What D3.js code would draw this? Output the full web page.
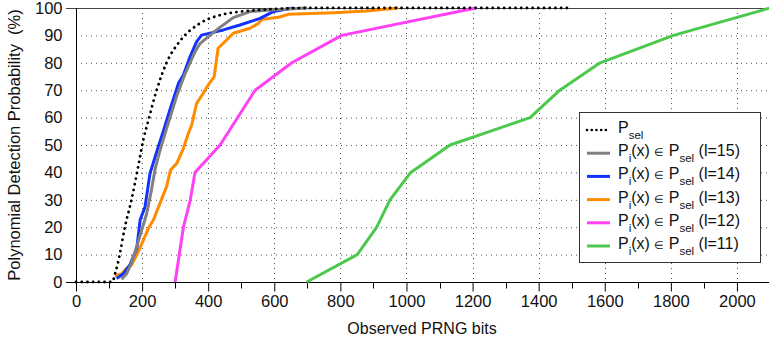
<!DOCTYPE html>
<html>
<head>
<meta charset="utf-8">
<script src="https://cdn.jsdelivr.net/npm/d3@7"></script>
<style>
  html, body { margin: 0; padding: 0; background: #fff; }
  svg { display: block; font-family: "Liberation Sans", Arial, Helvetica, sans-serif; }
</style>
</head>
<body>
<svg id="chart" width="769" height="340"></svg>
<script>
// Detection probability (%) versus number of observed PRNG bits.
const xTicks = [0, 200, 400, 600, 800, 1000, 1200, 1400, 1600, 1800, 2000];
const yTicks = [0, 10, 20, 30, 40, 50, 60, 70, 80, 90, 100];

// P_sel reference curve
const pSelBits = [0, 110, 118, 125, 133, 148, 168, 188, 204, 219, 244, 274, 315, 375, 436, 557, 700, 1500];
const pSelProb = [0, 0, 3, 6, 10.5, 20, 30, 42, 52, 59, 70, 80, 88, 94.4, 97.4, 99.3, 100, 100];

// l = 15
const l15Bits = [138, 153, 168, 189, 214, 229, 239, 254, 274, 305, 330, 360, 375, 395, 436, 476, 527, 597, 700];
const l15Prob = [1, 3, 7, 15, 25, 34, 41, 48, 56, 68, 76, 84, 87, 89, 93, 96.5, 98.7, 99.4, 100];

// l = 14
const l14Bits = [123, 143, 163, 184, 194, 209, 224, 249, 264, 284, 310, 325, 345, 365, 380, 415, 446, 496, 557, 597, 657];
const l14Prob = [1.3, 3, 6.2, 12.3, 22.6, 27.5, 39.7, 49.4, 54.9, 62.8, 72.5, 75.5, 82.2, 87.7, 90.1, 91.1, 92, 93.8, 96.2, 98.7, 100];

// l = 13
const l13Bits = [118, 138, 153, 168, 184, 204, 219, 234, 254, 274, 286, 305, 325, 340, 350, 365, 385, 400, 418, 430, 446, 476, 527, 552, 562, 617, 642, 779, 880, 975];
const l13Prob = [2.2, 2.9, 5, 6.2, 9.9, 15.3, 19.6, 22.6, 28.7, 34.8, 40.9, 43.3, 48.8, 54.3, 57.3, 65.2, 68.9, 71.9, 74.9, 85.3, 87.2, 90.8, 92.6, 94.4, 95.8, 96.7, 97.7, 98.3, 98.9, 100];

// l = 12
const l12Bits = [300, 325, 346, 360, 436, 542, 653, 804, 1210];
const l12Prob = [0, 20, 30, 40, 50, 70, 80, 90, 100];

// l = 11
const l11Bits = [698, 851, 910, 950, 1013, 1132, 1374, 1464, 1586, 1808, 2100];
const l11Prob = [0, 10, 20, 30, 40, 50, 60, 70, 80, 90, 100];

const series = [
  { lbl: "15", bits: l15Bits, prob: l15Prob, color: "#808080" },
  { lbl: "14", bits: l14Bits, prob: l14Prob, color: "#1432ff" },
  { lbl: "13", bits: l13Bits, prob: l13Prob, color: "#ff8c00" },
  { lbl: "12", bits: l12Bits, prob: l12Prob, color: "#ff40f4" },
  { lbl: "11", bits: l11Bits, prob: l11Prob, color: "#4cc84c" }
];

const FONT = "Liberation Sans, Arial, Helvetica, sans-serif";
const svg = d3.select("#chart");
const x = d3.scaleLinear().domain([0, 2100]).range([76, 770]);
const y = d3.scaleLinear().domain([0, 100]).range([282, 8]);

// dotted grid
const grid = svg.append("g").attr("stroke", "#555").attr("stroke-width", 1)
  .attr("stroke-dasharray", "1,4").attr("fill", "none");
grid.selectAll("line.h").data(yTicks.filter(d => d > 0 && d < 100)).join("line")
  .attr("class", "h")
  .attr("x1", x(0)).attr("x2", x(2100))
  .attr("y1", d => y(d) + 0.5).attr("y2", d => y(d) + 0.5);
grid.selectAll("line.v").data(xTicks.filter(d => d > 0)).join("line")
  .attr("class", "v")
  .attr("x1", d => Math.round(x(d)) + 0.5).attr("x2", d => Math.round(x(d)) + 0.5)
  .attr("y1", y(100)).attr("y2", y(0));

// top border
svg.append("line").attr("x1", 66).attr("x2", 770)
  .attr("y1", y(100) + 0.5).attr("y2", y(100) + 0.5)
  .attr("stroke", "#444").attr("stroke-width", 1.2);

// x axis with minor ticks every 100
const xAxis = svg.append("g").attr("transform", `translate(0,${y(0) + 0.5})`);
xAxis.append("line").attr("x1", 66).attr("x2", 770).attr("stroke", "#000");
xAxis.selectAll("line.minor").data(d3.range(100, 2100, 200)).join("line")
  .attr("class", "minor")
  .attr("x1", d => Math.round(x(d)) + 0.5).attr("x2", d => Math.round(x(d)) + 0.5)
  .attr("y1", 0).attr("y2", 6).attr("stroke", "#000");
const xa = d3.axisBottom(x).tickValues(xTicks).tickFormat(d3.format("d"))
  .tickSize(9).tickPadding(4).tickSizeOuter(0);
xAxis.append("g").call(xa).call(g => {
  g.attr("font-family", FONT);
  g.select(".domain").remove();
  g.selectAll("text").attr("font-size", 16.5).attr("fill", "#111");
});

// y axis
const yAxis = svg.append("g").attr("transform", `translate(${x(0) + 0.5},0)`);
yAxis.append("line").attr("y1", y(100)).attr("y2", y(0)).attr("stroke", "#000");
const ya = d3.axisLeft(y).tickValues(yTicks).tickFormat(d3.format("d")).tickSize(0).tickPadding(14);
yAxis.append("g").call(ya).call(g => {
  g.attr("font-family", FONT);
  g.select(".domain").remove();
  g.selectAll("text").attr("font-size", 16.5).attr("fill", "#111");
});

// axis titles
svg.append("text").attr("x", 422).attr("y", 334).attr("text-anchor", "middle")
  .attr("font-size", 16).attr("fill", "#111").text("Observed PRNG bits");
svg.append("text").attr("transform", `translate(20,${(y(0) + y(100)) / 2}) rotate(-90)`)
  .attr("text-anchor", "middle").attr("font-size", 16.5).attr("fill", "#111")
  .attr("xml:space", "preserve").text("Polynomial Detection Probability  (%)");

// curves
const line = d3.line().x(d => x(d[0])).y(d => y(d[1]));
const plot = svg.append("g");
series.slice().reverse().forEach(s => {
  plot.append("path")
    .datum(s.bits.map((b, i) => [b, s.prob[i]]))
    .attr("d", line).attr("fill", "none")
    .attr("stroke", s.color).attr("stroke-width", 3)
    .attr("stroke-linejoin", "round");
});
plot.append("path")
  .datum(pSelBits.map((b, i) => [b, pSelProb[i]]))
  .attr("d", line.curve(d3.curveMonotoneX)).attr("fill", "none")
  .attr("stroke", "#000").attr("stroke-width", 2.8)
  .attr("stroke-linecap", "round").attr("stroke-dasharray", "0.1,5.6");

// legend
const lg = svg.append("g").attr("transform", "translate(579,112)");
lg.append("rect").attr("x", 0.5).attr("y", 0.5).attr("width", 181).attr("height", 150)
  .attr("fill", "#fff").attr("stroke", "#333").attr("stroke-width", 1);
const rowY = i => 18 + i * 23.2;
lg.append("line").attr("x1", 8).attr("x2", 31).attr("y1", rowY(0)).attr("y2", rowY(0))
  .attr("stroke", "#000").attr("stroke-width", 2.6)
  .attr("stroke-linecap", "round").attr("stroke-dasharray", "0.1,4.6");
const t0 = lg.append("text").attr("x", 39).attr("y", rowY(0) + 3).attr("font-size", 16).attr("fill", "#111");
t0.append("tspan").text("P");
t0.append("tspan").attr("font-size", 11.5).attr("dy", 6).text("sel");

series.forEach((s, i) => {
  const yy = rowY(i + 1);
  lg.append("line").attr("x1", 8).attr("x2", 31).attr("y1", yy).attr("y2", yy)
    .attr("stroke", s.color).attr("stroke-width", 3);
  const t = lg.append("text").attr("x", 39).attr("y", yy + 3).attr("font-size", 16).attr("fill", "#111");
  t.append("tspan").text("P");
  t.append("tspan").attr("font-size", 11.5).attr("dy", 6).text("i");
  t.append("tspan").attr("dy", -6).text("(x) ");
  t.append("tspan").attr("font-size", 11).text("\u2208");
  t.append("tspan").text(" P");
  t.append("tspan").attr("font-size", 11.5).attr("dy", 6).text("sel");
  t.append("tspan").attr("dy", -6).text(" (l=" + s.lbl + ")");
});
</script>
</body>
</html>
